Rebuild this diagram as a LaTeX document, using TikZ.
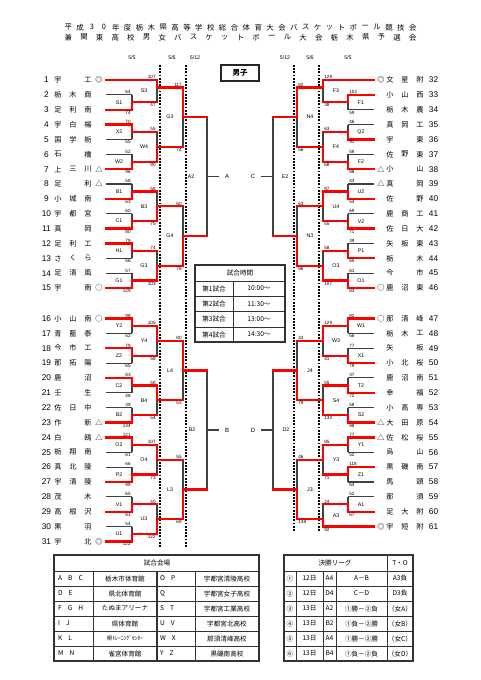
\documentclass[tikz,border=0pt]{standalone}
\usepackage{fontspec}
\setmainfont{Liberation Sans}
\newfontfamily\jp{Noto Sans CJK JP}
\pgfdeclarelayer{bg}
\pgfsetlayers{bg,main}
\tikzset{
  gl/.style={draw=black!75, line width=1.1pt},
  rl/.style={draw=red, line width=2.3pt, line cap=rect},
  dotl/.style={draw=black, line width=1.7pt, dash pattern=on 1.7pt off 1.5pt},
  sc/.style={font=\fontsize{4.6}{5}\selectfont, inner sep=0pt},
  ml/.style={font=\fontsize{5.3}{6}\selectfont, inner sep=0pt},
  tn/.style={font=\jp\fontsize{7.2}{8}\selectfont, inner sep=0pt},
  num/.style={font=\fontsize{8.3}{9}\selectfont, inner sep=0pt},
  tt/.style={font=\jp\fontsize{7.4}{8}\selectfont, inner sep=0pt},
  dt/.style={font=\fontsize{5.3}{6}\selectfont, inner sep=0pt},
  tb/.style={font=\jp\fontsize{6.6}{7}\selectfont, inner sep=0pt},
  tbl/.style={draw=black!80, line width=0.6pt},
  tbo/.style={draw=black!80, line width=1.8pt},
}
% left match: x, ytop, ybot, yout, win(t/b), xnext, top score, bottom score, label
\newcommand\LM[9]{%
  \begin{pgfonlayer}{bg}\draw[gl] (#1,#2) -- (#1,#3);\end{pgfonlayer}
  \if#5t\draw[rl] (#1,#2) -- (#1,#4) -- (#6,#4);\else\draw[rl] (#1,#3) -- (#1,#4) -- (#6,#4);\fi
  \node[sc,anchor=south east] (s#9#1t) at ({#1-1.2},{#2-0.9}) {#7};
  \node[sc,anchor=north east] (s#9#1b) at ({#1-1.2},{#3+1.1}) {#8};
  \node[ml] (m#9#1) at ({#1-13},{(#2+#3)/2}) {#9};
}
\newcommand\RM[9]{%
  \begin{pgfonlayer}{bg}\draw[gl] (#1,#2) -- (#1,#3);\end{pgfonlayer}
  \if#5t\draw[rl] (#1,#2) -- (#1,#4) -- (#6,#4);\else\draw[rl] (#1,#3) -- (#1,#4) -- (#6,#4);\fi
  \node[sc,anchor=south west] (s#9#1t) at ({#1+1.2},{#2-0.9}) {#7};
  \node[sc,anchor=north west] (s#9#1b) at ({#1+1.2},{#3+1.1}) {#8};
  \node[ml] (m#9#1) at ({#1+13},{(#2+#3)/2}) {#9};
}
\newcommand\TLg[3]{\begin{pgfonlayer}{bg}\draw[gl] (#1,#3) -- (#2,#3);\end{pgfonlayer}}
\newcommand\TLr[3]{\draw[rl] (#1,#3) -- (#2,#3);}
\newcommand\LT[6]{%
  \node[num] (n#1) at (46.5,#2) {#1};
  \node[tn] (a#1) at (58,#2) {#3};
  \node[tn] (b#1) at (73,#2) {#4};
  \node[tn] (c#1) at (88,#2) {#5};
  \node[tn] (d#1) at (99,#2) {#6};
}
\newcommand\RT[6]{%
  \node[num] (n#1) at (433.5,#2) {#1};
  \node[tn] (a#1) at (390,#2) {#3};
  \node[tn] (b#1) at (405,#2) {#4};
  \node[tn] (c#1) at (420,#2) {#5};
  \node[tn] (d#1) at (381,#2) {#6};
}
\begin{document}
\begin{tikzpicture}[x=1pt,y=-1pt]
\useasboundingbox (0,0) rectangle (481,680);
\begin{pgfonlayer}{bg}\fill[white] (0,0) rectangle (481,680);\end{pgfonlayer}

% ---------------- title
\foreach \c [count=\i] in {平,成,3,0,年,度,栃,木,県,高,等,学,校,総,合,体,育,大,会,バ,ス,ケ,ッ,ト,ボ,ー,ル,競,技,会}
  \node[tt] (ta\i) at ({68.3+(\i-1)*11.876},27.3) {\c};
\foreach \c [count=\i] in {兼,関,東,高,校,男,女,バ,ス,ケ,ッ,ト,ボ,ー,ル,大,会,栃,木,県,予,選,会}
  \node[tt] (tb\i) at ({68.3+(\i-1)*15.655},37.3) {\c};

% ---------------- dates
\node[dt] (d1) at (132,58) {5/5};
\node[dt] (d2) at (172,58) {5/6};
\node[dt] (d3) at (195,58) {5/12};
\node[dt] (d4) at (285,58) {5/12};
\node[dt] (d5) at (310,58) {5/6};
\node[dt] (d6) at (348,58) {5/5};

% ---------------- dotted day separators
\draw[dotl] (160,65) -- (160,548);
\draw[dotl] (186,65) -- (186,548);
\draw[dotl] (294,65) -- (294,532);
\draw[dotl] (319,65) -- (319,532);

% ---------------- boys box
\draw[line width=1.3pt, draw=black!85] (221,65) rectangle (259,81);
\node[font=\jp\bfseries\fontsize{7.5}{8}\selectfont, inner sep=0pt] (boys) at (240,73) {男子};

% ---------------- left teams
\LT{1}{80.00}{宇}{}{工}{◎}
\LT{2}{94.86}{栃}{木}{商}{}
\LT{3}{109.72}{足}{利}{南}{}
\LT{4}{124.58}{宇}{白}{楊}{}
\LT{5}{139.44}{国}{学}{栃}{}
\LT{6}{154.30}{石}{}{橋}{}
\LT{7}{169.16}{上}{三}{川}{△}
\LT{8}{184.02}{足}{}{利}{△}
\LT{9}{198.88}{小}{城}{南}{}
\LT{10}{213.74}{宇}{都}{宮}{}
\LT{11}{228.60}{真}{}{岡}{}
\LT{12}{243.46}{足}{利}{工}{}
\LT{13}{258.32}{さ}{く}{ら}{}
\LT{14}{273.18}{足}{清}{風}{}
\LT{15}{288.04}{宇}{}{南}{○}
\LT{16}{318.50}{小}{山}{南}{○}
\LT{17}{333.36}{青}{藍}{泰}{}
\LT{18}{348.22}{今}{市}{工}{}
\LT{19}{363.08}{那}{拓}{陽}{}
\LT{20}{377.94}{鹿}{}{沼}{}
\LT{21}{392.80}{壬}{}{生}{}
\LT{22}{407.66}{佐}{日}{中}{}
\LT{23}{422.52}{作}{}{新}{△}
\LT{24}{437.38}{白}{}{鴎}{△}
\LT{25}{452.24}{栃}{翔}{南}{}
\LT{26}{467.10}{真}{北}{陵}{}
\LT{27}{481.96}{宇}{清}{陵}{}
\LT{28}{496.82}{茂}{}{木}{}
\LT{29}{511.68}{高}{根}{沢}{}
\LT{30}{526.54}{黒}{}{羽}{}
\LT{31}{541.40}{宇}{}{北}{◎}

% ---------------- right teams
\RT{32}{80.00}{文}{星}{附}{◎}
\RT{33}{94.86}{小}{山}{西}{}
\RT{34}{109.72}{栃}{木}{農}{}
\RT{35}{124.58}{真}{岡}{工}{}
\RT{36}{139.44}{宇}{}{東}{}
\RT{37}{154.30}{佐}{野}{東}{}
\RT{38}{169.16}{小}{}{山}{△}
\RT{39}{184.02}{真}{}{岡}{△}
\RT{40}{198.88}{佐}{}{野}{}
\RT{41}{213.74}{鹿}{商}{工}{}
\RT{42}{228.60}{佐}{日}{大}{}
\RT{43}{243.46}{矢}{板}{東}{}
\RT{44}{258.32}{栃}{}{木}{}
\RT{45}{273.18}{今}{}{市}{}
\RT{46}{288.04}{鹿}{沼}{東}{○}
\RT{47}{318.50}{那}{清}{峰}{○}
\RT{48}{333.36}{栃}{木}{工}{}
\RT{49}{348.22}{矢}{}{板}{}
\RT{50}{363.08}{小}{北}{桜}{}
\RT{51}{377.94}{鹿}{沼}{南}{}
\RT{52}{392.80}{幸}{}{福}{}
\RT{53}{407.66}{小}{高}{専}{}
\RT{54}{422.52}{大}{田}{原}{△}
\RT{55}{437.38}{佐}{松}{桜}{△}
\RT{56}{452.24}{烏}{}{山}{}
\RT{57}{467.10}{黒}{磯}{南}{}
\RT{58}{481.96}{馬}{}{頭}{}
\RT{59}{496.82}{那}{}{須}{}
\RT{60}{511.68}{足}{大}{附}{}
\RT{61}{526.54}{宇}{短}{附}{◎}

% ---------------- left team lines
\TLr{106}{157}{80.00}
\TLg{106}{132}{94.86}  \TLr{106}{132}{109.72}
\TLr{106}{132}{124.58} \TLg{106}{132}{139.44}
\TLg{106}{132}{154.30} \TLr{106}{132}{169.16}
\TLg{106}{132}{184.02} \TLr{106}{132}{198.88}
\TLg{106}{132}{213.74} \TLr{106}{132}{228.60}
\TLr{106}{132}{243.46} \TLg{106}{132}{258.32}
\TLg{106}{132}{273.18} \TLr{106}{132}{288.04}
\TLr{106}{132}{318.50} \TLg{106}{132}{333.36}
\TLr{106}{132}{348.22} \TLg{106}{132}{363.08}
\TLr{106}{132}{377.94} \TLg{106}{132}{392.80}
\TLg{106}{132}{407.66} \TLr{106}{132}{422.52}
\TLr{106}{132}{437.38} \TLg{106}{132}{452.24}
\TLg{106}{132}{467.10} \TLr{106}{132}{481.96}
\TLg{106}{132}{496.82} \TLr{106}{132}{511.68}
\TLg{106}{132}{526.54} \TLr{106}{132}{541.40}

% ---------------- right team lines
\TLr{374}{323}{80.00}
\TLr{374}{348}{94.86}  \TLg{374}{348}{109.72}
\TLg{374}{348}{124.58} \TLr{374}{348}{139.44}
\TLg{374}{348}{154.30} \TLr{374}{348}{169.16}
\TLg{374}{348}{184.02} \TLr{374}{348}{198.88}
\TLg{374}{348}{213.74} \TLr{374}{348}{228.60}
\TLg{374}{348}{243.46} \TLr{374}{348}{258.32}
\TLg{374}{348}{273.18} \TLr{374}{348}{288.04}
\TLr{374}{348}{318.50} \TLg{374}{348}{333.36}
\TLg{374}{348}{348.22} \TLr{374}{348}{363.08}
\TLg{374}{348}{377.94} \TLr{374}{348}{392.80}
\TLg{374}{348}{407.66} \TLr{374}{348}{422.52}
\TLr{374}{348}{437.38} \TLg{374}{348}{452.24}
\TLr{374}{348}{467.10} \TLg{374}{348}{481.96}
\TLg{374}{348}{496.82} \TLr{374}{348}{511.68}
\TLr{374}{323}{526.54}

% ---------------- left matches
\LM{132}{94.86}{109.72}{102.29}{b}{157}{64}{74}{S1}
\LM{132}{124.58}{139.44}{132.01}{t}{157}{70}{55}{X2}
\LM{132}{154.30}{169.16}{161.73}{b}{157}{52}{96}{W2}
\LM{132}{184.02}{198.88}{191.45}{b}{157}{58}{63}{B1}
\LM{132}{213.74}{228.60}{221.17}{b}{157}{60}{80}{C1}
\LM{132}{243.46}{258.32}{250.89}{t}{157}{79}{56}{H1}
\LM{132}{273.18}{288.04}{280.61}{b}{157}{57}{129}{G1}
\LM{132}{318.50}{333.36}{325.93}{t}{157}{98}{52}{Y2}
\LM{132}{348.22}{363.08}{355.65}{t}{157}{79}{65}{Z2}
\LM{132}{377.94}{392.80}{385.37}{t}{157}{83}{48}{C2}
\LM{132}{407.66}{422.52}{415.09}{b}{157}{39}{134}{B2}
\LM{132}{437.38}{452.24}{444.81}{t}{157}{121}{61}{O2}
\LM{132}{467.10}{481.96}{474.53}{b}{157}{66}{99}{P2}
\LM{132}{496.82}{511.68}{504.25}{b}{157}{65}{81}{V1}
\LM{132}{526.54}{541.40}{533.97}{b}{157}{54}{122}{U1}

\LM{157}{80.00}{102.29}{87.43}{t}{183}{107}{47}{S3}
\LM{157}{132.01}{161.73}{146.87}{b}{183}{55}{90}{W4}
\LM{157}{191.45}{221.17}{206.31}{b}{183}{58}{75}{B3}
\LM{157}{250.89}{280.61}{265.75}{b}{183}{74}{103}{G3}
\LM{157}{325.93}{355.65}{340.79}{t}{183}{105}{58}{Y4}
\LM{157}{385.37}{415.09}{400.23}{t}{183}{58}{54}{B4}
\LM{157}{444.81}{474.53}{459.67}{t}{183}{107}{73}{O4}
\LM{157}{504.25}{533.97}{519.11}{b}{183}{40}{122}{U3}

\LM{183}{87.43}{146.87}{117.15}{t}{207}{117}{74}{G3}
\LM{183}{206.31}{265.75}{236.03}{b}{207}{60}{76}{G4}
\LM{183}{340.79}{400.23}{370.51}{t}{207}{80}{53}{L4}
\LM{183}{459.67}{519.11}{489.39}{b}{207}{55}{69}{L3}

% ---------------- right matches
\RM{348}{94.86}{109.72}{102.29}{t}{323}{102}{59}{F1}
\RM{348}{124.58}{139.44}{132.01}{b}{323}{46}{91}{Q2}
\RM{348}{154.30}{169.16}{161.73}{b}{323}{59}{98}{F2}
\RM{348}{184.02}{198.88}{191.45}{b}{323}{43}{54}{U2}
\RM{348}{213.74}{228.60}{221.17}{b}{323}{69}{71}{V2}
\RM{348}{243.46}{258.32}{250.89}{b}{323}{39}{65}{P1}
\RM{348}{273.18}{288.04}{280.61}{b}{323}{61}{83}{O1}
\RM{348}{318.50}{333.36}{325.93}{t}{323}{82}{56}{W1}
\RM{348}{348.22}{363.08}{355.65}{b}{323}{77}{79}{X1}
\RM{348}{377.94}{392.80}{385.37}{b}{323}{37}{72}{T2}
\RM{348}{407.66}{422.52}{415.09}{b}{323}{58}{98}{S2}
\RM{348}{437.38}{452.24}{444.81}{t}{323}{77}{52}{Y1}
\RM{348}{467.10}{481.96}{474.53}{t}{323}{118}{64}{Z1}
\RM{348}{496.82}{511.68}{504.25}{b}{323}{52}{67}{A1}

\RM{323}{80.00}{102.29}{87.43}{t}{297}{129}{38}{F3}
\RM{323}{132.01}{161.73}{146.87}{b}{297}{63}{68}{F4}
\RM{323}{191.45}{221.17}{206.31}{t}{297}{97}{55}{U4}
\RM{323}{250.89}{280.61}{265.75}{b}{297}{58}{107}{O3}
\RM{323}{325.93}{355.65}{340.79}{t}{297}{129}{41}{W3}
\RM{323}{385.37}{415.09}{400.23}{b}{297}{55}{134}{S4}
\RM{323}{444.81}{474.53}{459.67}{t}{297}{85}{71}{Y3}
\RM{323}{504.25}{526.54}{519.11}{b}{297}{24}{92}{A3}

\RM{297}{87.43}{146.87}{117.15}{t}{273}{82}{56}{N4}
\RM{297}{206.31}{265.75}{236.03}{b}{273}{63}{96}{N3}
\RM{297}{340.79}{400.23}{370.51}{b}{273}{43}{79}{J4}
\RM{297}{459.67}{519.11}{489.39}{b}{273}{46}{138}{J3}

% ---------------- semi-final verticals (not played yet)
\begin{pgfonlayer}{bg}
\draw[gl] (207,117.15) -- (207,236.03);
\draw[gl] (207,370.51) -- (207,489.39);
\draw[gl] (273,117.15) -- (273,236.03);
\draw[gl] (273,370.51) -- (273,489.39);
\end{pgfonlayer}
\node[ml] (mA2) at (191,176.59) {A2};
\node[ml] (mB2) at (192,429.95) {B2};
\node[ml] (mE2) at (285,176.59) {E2};
\node[ml] (mD2) at (286,429.95) {D2};
\node[dt,font=\fontsize{6}{7}\selectfont] (fA) at (227,176.59) {A};
\node[dt,font=\fontsize{6}{7}\selectfont] (fB) at (227,429.95) {B};
\node[dt,font=\fontsize{6}{7}\selectfont] (fC) at (253,176.59) {C};
\node[dt,font=\fontsize{6}{7}\selectfont] (fD) at (253,429.95) {D};
\draw[gl] (207,176.59) -- ([xshift=-6pt]fA.west);
\draw[gl] (207,429.95) -- ([xshift=-6pt]fB.west);
\draw[gl] (273,176.59) -- ([xshift=6pt]fC.east);
\draw[gl] (273,429.95) -- ([xshift=6pt]fD.east);

% ---------------- match time table
\foreach \yy in {281,296,311.5,327} \draw[tbl] (195,\yy) -- (285,\yy);
\draw[tbl] (233,281) -- (233,342);
\draw[tbo] (195,265) rectangle (285,342);
\node[tb] (h0) at (240,273) {試合時間};
\node[tb] (h1) at (214,288.5) {第1試合};
\node[tb] (h2) at (214,303.75) {第2試合};
\node[tb] (h3) at (214,319.25) {第3試合};
\node[tb] (h4) at (214,334.5) {第4試合};
\node[tb] (k1) at (259,288.5) {10:00〜};
\node[tb] (k2) at (259,303.75) {11:30〜};
\node[tb] (k3) at (259,319.25) {13:00〜};
\node[tb] (k4) at (259,334.5) {14:30〜};

% ---------------- venue table
\foreach \yy in {571,586,601,616,631,646} \draw[tbl] (54,\yy) -- (259,\yy);
\draw[tbl] (93,571) -- (93,661);
\draw[tbl] (195,571) -- (195,661);
\draw[tbo] (157,571) -- (157,661);
\draw[tbo] (54,555) rectangle (259,661);
\node[tb] (v0) at (157,563) {試合会場};
\foreach \l/\n/\r/\m [count=\i] in {{A\hspace{6pt}B\hspace{6pt}C}/栃木市体育館/{O\hspace{6pt}P}/宇都宮清陵高校,
  {D\hspace{6pt}E}/県北体育館/Q/宇都宮女子高校,
  {F\hspace{6pt}G\hspace{6pt}H}/たぬまアリーナ/{S\hspace{6pt}T}/宇都宮工業高校,
  {I\hspace{6pt}J}/県体育館/{U\hspace{6pt}V}/宇都宮北高校,
  {K\hspace{6pt}L}/{\fontsize{5.6}{6}\selectfont 県ﾄﾚｰﾆﾝｸﾞｾﾝﾀｰ}/{W\hspace{6pt}X}/那須清峰高校,
  {M\hspace{6pt}N}/雀宮体育館/{Y\hspace{6pt}Z}/黒磯南高校} {
  \node[tb,anchor=west] (vl\i) at (58,{571+15*\i-7.5}) {\l};
  \node[tb] (vn\i) at (125,{571+15*\i-7.5}) {\n};
  \node[tb,anchor=west] (vr\i) at (160,{571+15*\i-7.5}) {\r};
  \node[tb] (vm\i) at (227,{571+15*\i-7.5}) {\m};
}

% ---------------- final league table
\foreach \yy in {571,586,601,616,631,646} \draw[tbl] (284,\yy) -- (413,\yy);
\draw[tbl] (387,555) -- (387,661);
\foreach \xx in {296,323,336} \draw[tbl] (\xx,571) -- (\xx,661);
\draw[tbo] (284,555) rectangle (413,661);
\node[tb] (f0) at (335,563) {決勝リーグ};
\node[tb] (f00) at (400,563) {T・O};
\foreach \a/\b/\c/\d/\e [count=\i] in {①/12日/A4/A－B/A3負,
  ②/12日/D4/C－D/D3負,
  ③/13日/A2/①勝－②負/（女A）,
  ④/13日/B2/①負－②勝/（女B）,
  ⑤/13日/A4/①勝－②勝/（女C）,
  ⑥/13日/B4/①負－②負/（女D）} {
  \node[tb] (fa\i) at (290,{571+15*\i-7.5}) {\a};
  \node[tb] (fb\i) at (309.5,{571+15*\i-7.5}) {\b};
  \node[tb] (fc\i) at (329.5,{571+15*\i-7.5}) {\c};
  \node[tb] (fd\i) at (361.5,{571+15*\i-7.5}) {\d};
  \node[tb] (fe\i) at (400,{571+15*\i-7.5}) {\e};
}
\end{tikzpicture}
\end{document}
